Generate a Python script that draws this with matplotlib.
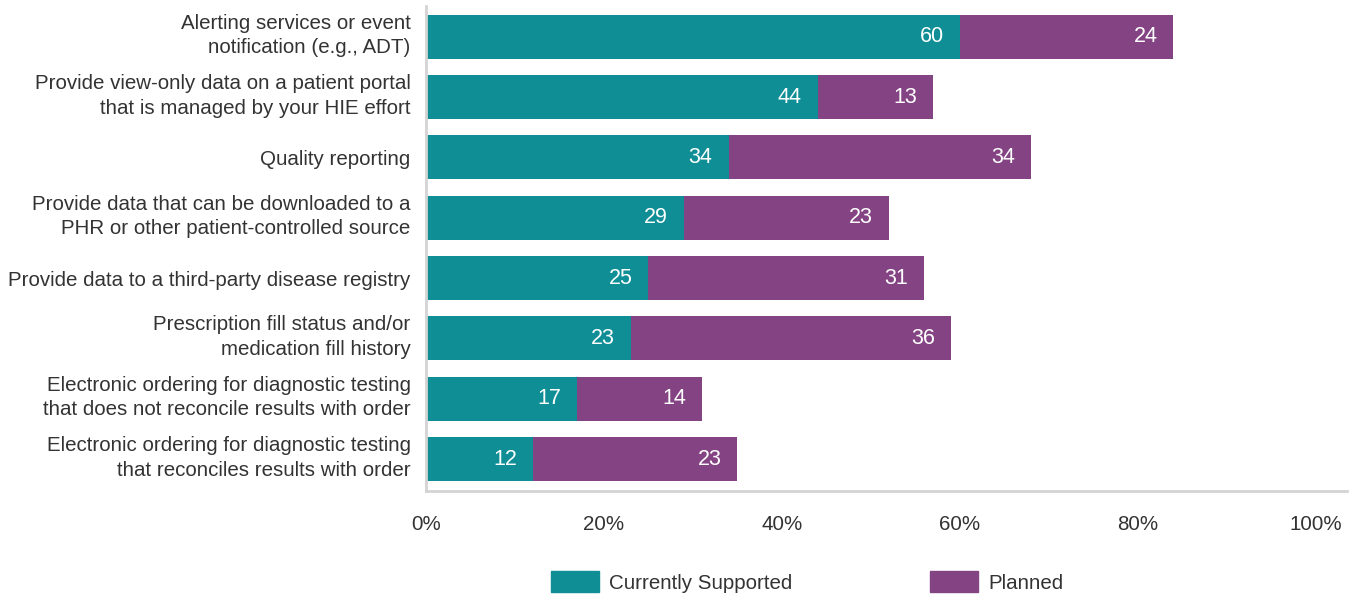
import matplotlib.pyplot as plt
from matplotlib.patches import Patch
from matplotlib.transforms import ScaledTranslation

categories = [
    "Alerting services or event\nnotification (e.g., ADT)",
    "Provide view-only data on a patient portal\nthat is managed by your HIE effort",
    "Quality reporting",
    "Provide data that can be downloaded to a\nPHR or other patient-controlled source",
    "Provide data to a third-party disease registry",
    "Prescription fill status and/or\nmedication fill history",
    "Electronic ordering for diagnostic testing\nthat does not reconcile results with order",
    "Electronic ordering for diagnostic testing\nthat reconciles results with order",
]
supported = [60, 44, 34, 29, 25, 23, 17, 12]
planned = [24, 13, 34, 23, 31, 36, 14, 23]

TEAL = "#0F8E96"
PURPLE = "#844484"
TEXT = "#333333"
SPINE = "#d4d4d4"
FS = 14.8

plt.rcParams['font.family'] = ['Liberation Sans', 'DejaVu Sans']

fig = plt.figure(figsize=(13.54, 5.96), dpi=100)
ax = fig.add_axes([0.3146, 0.1762, 0.6802, 0.8138])

y = list(range(len(categories)))
h = 0.73
ax.barh(y, supported, height=h, color=TEAL)
ax.barh(y, planned, left=supported, height=h, color=PURPLE)

# value labels sit just inside the right end of each segment
for i in y:
    ax.annotate(str(supported[i]), (supported[i], i), xytext=(-11.5, 0),
                textcoords="offset points", ha="right", va="center",
                color="white", fontsize=15.5)
    end = supported[i] + planned[i]
    ax.annotate(str(planned[i]), (end, i), xytext=(-11.5, 0),
                textcoords="offset points", ha="right", va="center",
                color="white", fontsize=15.5)

ax.set_xlim(0, 103.5)
ax.set_ylim(7.53, -0.51)
ax.set_yticks(y)
ax.set_yticklabels(categories, fontsize=FS, color=TEXT, linespacing=1.37)
ax.set_xticks([0, 20, 40, 60, 80, 100])
ax.set_xticklabels([f"{v}%" for v in range(0, 101, 20)], fontsize=FS, color=TEXT)
ax.tick_params(axis="y", length=0, pad=11)
ax.tick_params(axis="x", length=0, pad=17)

# two-line labels sit a little above the bar centre
nudge = ScaledTranslation(0, 6 / 100, fig.dpi_scale_trans)
for lab in ax.get_yticklabels():
    if "\n" in lab.get_text():
        lab.set_transform(lab.get_transform() + nudge)

for s in ["top", "right"]:
    ax.spines[s].set_visible(False)
for s in ["left", "bottom"]:
    ax.spines[s].set_color(SPINE)
    ax.spines[s].set_linewidth(2)

handles = [Patch(color=TEAL, label="Currently Supported"),
           Patch(color=PURPLE, label="Planned")]
fig.legend(handles=handles, loc="center", bbox_to_anchor=(0.596, 0.0235),
           ncol=2, frameon=False, fontsize=FS, labelcolor=TEXT,
           handlelength=2.33, handleheight=1.17, handletextpad=0.5,
           columnspacing=6.7)

fig.savefig("out.png", dpi=100)
